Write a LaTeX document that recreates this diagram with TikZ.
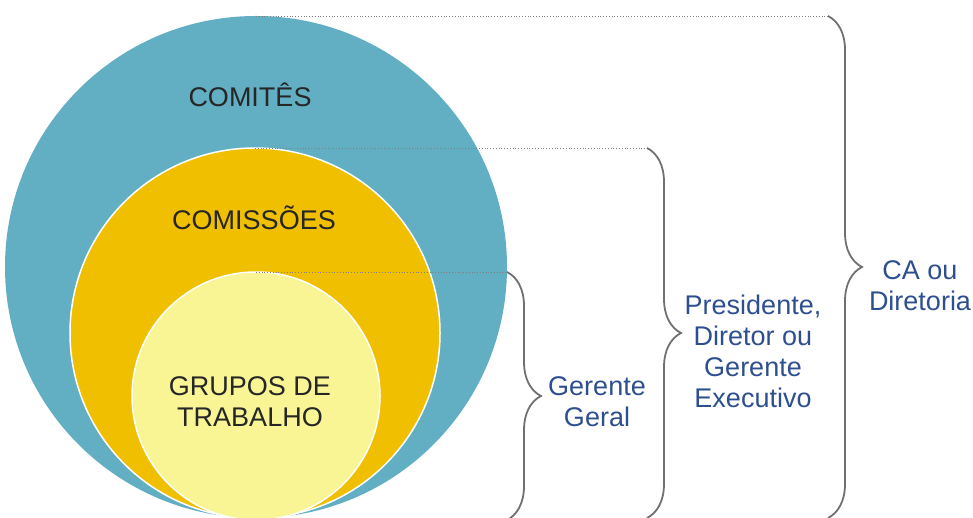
\documentclass[tikz,border=0pt]{standalone}
\usepackage{fontspec}
\setmainfont{Liberation Sans}
\usetikzlibrary{decorations.pathreplacing}
\definecolor{comiteblue}{RGB}{98,175,195}
\definecolor{comissaogold}{RGB}{240,191,0}
\definecolor{grupoyellow}{RGB}{249,245,149}
\definecolor{tagblue}{RGB}{46,79,143}
\definecolor{bracegray}{RGB}{112,112,112}

\begin{document}
\begin{tikzpicture}[x=1pt, y=1pt, font=\fontsize{27}{31}\selectfont,
	disc/.style={circle, inner sep=0pt, outer sep=0pt, draw=white, line width=1.5pt},
	tag/.style={text=tagblue, align=center},
	guide/.style={color=gray, dotted, line width=0.8pt},
	curly/.style={decorate, decoration={brace, amplitude=34pt}, draw=bracegray, line width=1.8pt}]
	\useasboundingbox (0,0) rectangle (973,517);
	% nested circles
	\node[disc, fill=comiteblue, draw=none, minimum size=502] (comites) at (256,250) {};
	\node[disc, fill=comissaogold, minimum size=370] (comissoes) at (255,184) {};
	\node[disc, fill=grupoyellow, minimum size=248] (grupos) at (256,121) {};
	\node[text=black!85] (tcomites) at (250,422) {COMITÊS};
	\node[text=black!85] (tcomissoes) at (254,299) {COMISSÕES};
	\node[text=black!85, align=center] (tgrupos) at (250,115) {GRUPOS DE\\TRABALHO};
	% brace ends
	\coordinate (catop) at (828,501);
	\coordinate (cabot) at (828,-1);
	\coordinate (prestop) at (647,369);
	\coordinate (presbot) at (647,-1);
	\coordinate (geraltop) at (507,245);
	\coordinate (geralbot) at (507,-3);
	\draw[guide] (comites.north) -- (catop);
	\draw[guide] (comissoes.north) -- (prestop);
	\draw[guide] (grupos.north) -- (geraltop);
	\draw[curly] (catop) -- (cabot);
	\draw[curly] (prestop) -- (presbot);
	\draw[curly] (geraltop) -- (geralbot);
	\node[tag] (ca) at (920,231) {CA ou\\Diretoria};
	\node[tag] (pres) at (753,166) {Presidente,\\Diretor ou\\Gerente\\Executivo};
	\node[tag] (geral) at (597,115) {Gerente\\Geral};
\end{tikzpicture}
\end{document}
